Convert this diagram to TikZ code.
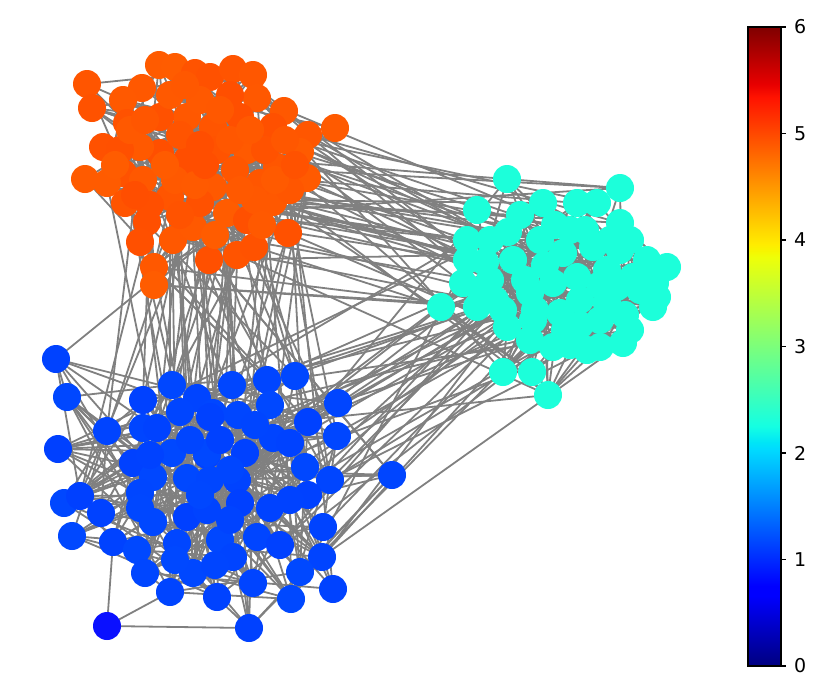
\documentclass[tikz,border=0pt]{standalone}
\usepackage{fontspec}
\setmainfont{DejaVu Sans}
\pgfdeclarelayer{bg}
\pgfsetlayers{bg,main}
\definecolor{edgec}{HTML}{808080}
\definecolor{orn}{HTML}{FF4E00}
\definecolor{ornb}{HTML}{FF5C00}
\definecolor{cyn}{HTML}{1CFFDA}
\definecolor{blu}{HTML}{0048FF}
\definecolor{blub}{HTML}{0040FF}
\definecolor{bludark}{HTML}{0A10FF}
\definecolor{j0}{rgb}{0,0,0.5}
\definecolor{j1}{rgb}{0,0,1}
\definecolor{j2}{rgb}{0,0,1}
\definecolor{j3}{rgb}{0,0.86,1}
\definecolor{j4}{rgb}{0,0.9,0.968}
\definecolor{j5}{rgb}{0.081,1,0.887}
\definecolor{j6}{rgb}{0.935,1,0.032}
\definecolor{j7}{rgb}{0.968,0.963,0}
\definecolor{j8}{rgb}{1,0.926,0}
\definecolor{j9}{rgb}{1,0.074,0}
\definecolor{j10}{rgb}{0.909,0,0}
\definecolor{j11}{rgb}{0.5,0,0}
\pgfdeclareverticalshading{jet}{100bp}{color(0bp)=(j0); color(25bp)=(j0); color(30.5bp)=(j1); color(31.25bp)=(j2); color(42bp)=(j3); color(42.5bp)=(j4); color(43.75bp)=(j5); color(57bp)=(j6); color(57.5bp)=(j7); color(58bp)=(j8); color(69.5bp)=(j9); color(70.5bp)=(j10); color(75bp)=(j11); color(100bp)=(j11)}
\tikzset{
  vtx/.style={circle, inner sep=0pt, minimum size=28pt, draw=none},
  cnode/.style={vtx, fill=cyn},
  edge/.style={draw=edgec, line width=1.8pt},
  ticklab/.style={right, inner sep=0pt, xshift=8pt, font=\fontsize{19}{23}\selectfont}
}
\begin{document}
\begin{tikzpicture}[x=1pt, y=-1pt]
\useasboundingbox (0,0) rectangle (830,699);
\pgfmathsetseed{11}
% orange cluster
\foreach [count=\i] \x/\y in {87/84,92/108,159/65,175/67,195/73,210/77,233/69,253/75,142/88,123/100,257/98,284/111,335/128,308/135,127/123,103/147,85/179,123/173,107/183,125/203,147/222,140/242,173/240,154/267,154/285,209/260,237/255,254/247,288/233,273/202,307/178,300/152,213/187,260/183,187/160,160/153,227/213,247/220,193/227,213/127,187/117,240/117,160/117,273/127,247/150,217/150,143/180,170/197,200/203,140/147,277/167,200/100,230/95,180/215,265/150,120/150,180/135,200/145,230/140,250/130,175/180,195/185,235/170,255/200,215/235,150/205,130/130,285/140,290/190,220/110,170/95,145/120,262/225,115/165,205/165,165/165,275/180,240/190,135/195,295/165,185/85}
  {\pgfmathtruncatemacro\m{random(0,100)}
  \node[vtx, fill=orn!\m!ornb] (o\i) at (\x,\y) {};}
% cyan cluster
\foreach [count=\i] \x/\y in {507/179,620/188,477/210,543/203,577/203,597/203,620/223,508/232,467/240,570/230,667/267,647/260,467/260,463/283,490/280,513/260,540/240,563/253,593/247,620/250,441/307,477/307,503/310,530/293,553/283,577/277,607/270,633/277,657/297,653/307,607/303,580/300,560/313,533/320,507/327,630/330,623/343,600/347,587/350,553/347,530/340,503/372,532/372,548/395,617/287,490/240,525/280,545/265,585/230,600/285,625/315,640/290,565/330,535/310,495/300,610/240,655/283,580/325,485/262,555/225,520/215,600/320,480/290,630/240,570/345}
  \node[cnode] (c\i) at (\x,\y) {};
% blue cluster
\foreach [count=\i] \x/\y in {56/359,67/397,58/449,64/503,80/496,101/513,72/536,107/431,113/542,143/400,172/385,197/398,143/428,157/428,133/463,172/453,207/455,153/477,187/478,140/493,140/508,153/522,187/517,177/543,137/550,145/573,170/592,193/573,217/597,180/412,213/413,232/385,267/380,295/376,270/405,338/403,308/422,337/436,238/415,210/417,273/438,290/443,245/453,305/467,330/480,392/475,308/495,270/508,237/480,240/503,210/480,323/527,257/537,220/540,322/557,300/572,233/557,253/583,291/599,333/589,249/628,207/453,207/510,190/440,220/440,255/425,230/470,200/495,230/520,175/560,215/565,280/545,150/455,290/500}
  {\pgfmathtruncatemacro\m{random(0,100)}
  \node[vtx, fill=blu!\m!blub] (b\i) at (\x,\y) {};}
\node[vtx, fill=bludark] (b75) at (107,626) {};
\begin{pgfonlayer}{bg}
\pgfmathsetseed{7}
\foreach \k in {1,...,210}{
  \pgfmathtruncatemacro\a{random(1,81)}\pgfmathtruncatemacro\b{random(1,81)}
  \draw[edge] (o\a.center) -- (o\b.center);}
\foreach \k in {1,...,180}{
  \pgfmathtruncatemacro\a{random(1,65)}\pgfmathtruncatemacro\b{random(1,65)}
  \draw[edge] (c\a.center) -- (c\b.center);}
\foreach \k in {1,...,260}{
  \pgfmathtruncatemacro\a{random(1,74)}\pgfmathtruncatemacro\b{random(1,74)}
  \draw[edge] (b\a.center) -- (b\b.center);}
\foreach \k in {1,...,55}{
  \pgfmathtruncatemacro\a{random(1,81)}\pgfmathtruncatemacro\b{random(1,65)}
  \draw[edge] (o\a.center) -- (c\b.center);}
\foreach \k in {1,...,65}{
  \pgfmathtruncatemacro\a{random(1,81)}\pgfmathtruncatemacro\b{random(1,74)}
  \draw[edge] (o\a.center) -- (b\b.center);}
\foreach \k in {1,...,42}{
  \pgfmathtruncatemacro\a{random(1,74)}\pgfmathtruncatemacro\b{random(1,65)}
  \draw[edge] (b\a.center) -- (c\b.center);}
\draw[edge] (b75.center) -- (b61.center);
\draw[edge] (b75.center) -- (b9.center);
\draw[edge] (b75.center) -- (b27.center);
\end{pgfonlayer}
% colorbar
\shade[shading=jet] (748,27) rectangle (781,666);
\draw[black, line width=1.2pt] (748,27) rectangle (781,666);
\foreach \k in {0,...,6}{
  \draw[black, line width=1.2pt] (781,{666-106.5*\k}) -- (786,{666-106.5*\k}) coordinate (t\k);
  \node[ticklab] (l\k) at (t\k) {\k};
}
\end{tikzpicture}
\end{document}
